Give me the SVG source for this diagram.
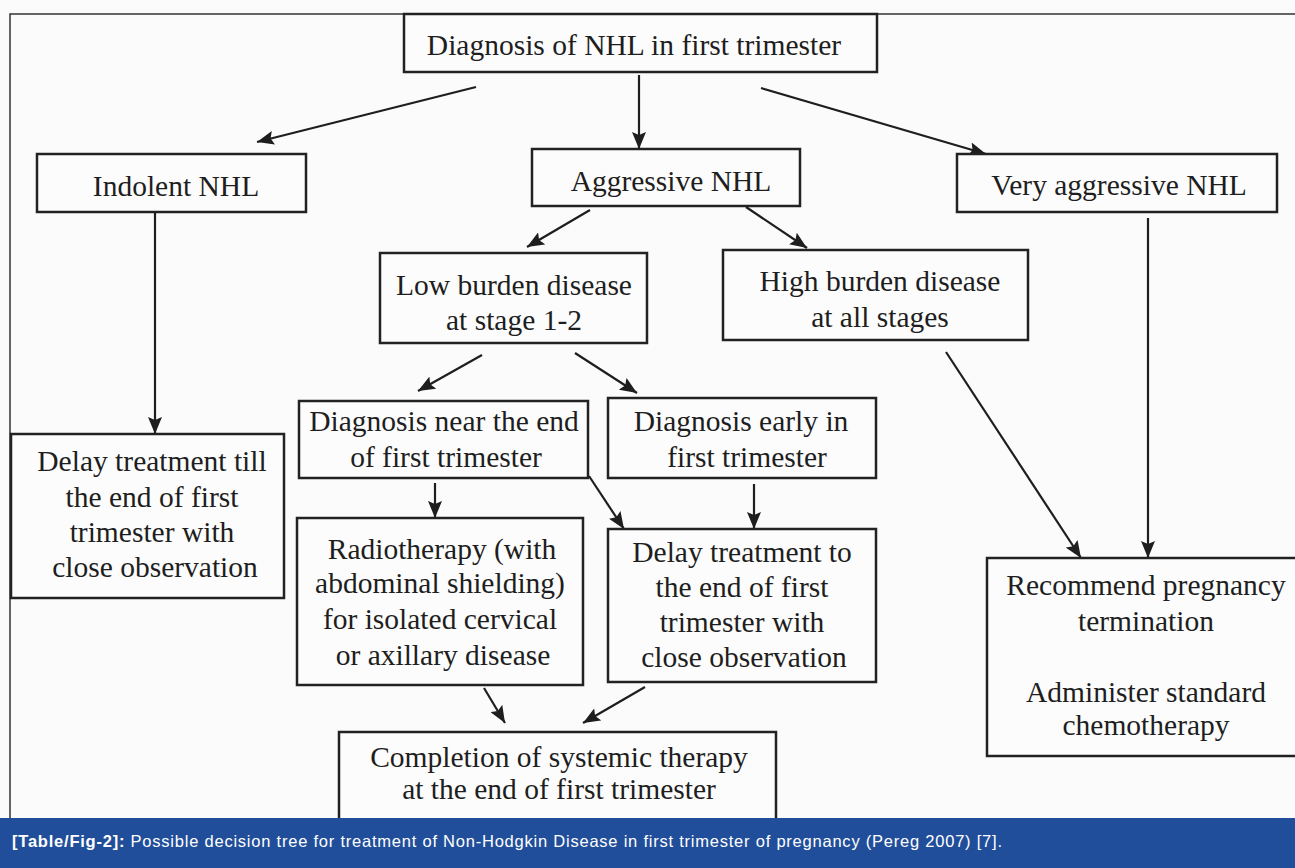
<svg xmlns="http://www.w3.org/2000/svg" width="1295" height="868" viewBox="0 0 1295 868">
<style>
.box{fill:#fcfcfc;stroke:#222;stroke-width:2.5}
.t{font-family:"Liberation Serif","Times New Roman",serif;font-size:29.5px;fill:#1e1e1e;text-anchor:middle}
.c{stroke:#1e1e1e;stroke-width:2.2;fill:none;marker-end:url(#ah)}
.cap{font-family:"Liberation Sans",Arial,sans-serif;font-size:16.5px;fill:#ffffff}
</style>
<defs>
<marker id="ah" markerUnits="userSpaceOnUse" markerWidth="18" markerHeight="14" refX="17" refY="7" orient="auto">
<path d="M0,0 L17,7 L0,14 L3,7 z" fill="#1e1e1e"/>
</marker>
</defs>
<rect x="0" y="0" width="1295" height="868" fill="#fbfbfb"/>
<rect x="10" y="14" width="1300" height="830" fill="none" stroke="#333" stroke-width="1.5"/>

<g id="connectors">
<line class="c" x1="476" y1="87" x2="257" y2="142"/>
<line class="c" x1="639" y1="75" x2="639" y2="149"/>
<line class="c" x1="761" y1="88" x2="986" y2="154"/>
<line class="c" x1="155" y1="212" x2="155" y2="434"/>
<line class="c" x1="590" y1="210" x2="527" y2="247"/>
<line class="c" x1="746" y1="207" x2="807" y2="248"/>
<line class="c" x1="1148" y1="218" x2="1148" y2="558"/>
<line class="c" x1="946" y1="352" x2="1081" y2="558"/>
<line class="c" x1="482" y1="355" x2="418" y2="391"/>
<line class="c" x1="575" y1="353" x2="637" y2="393"/>
<line class="c" x1="435" y1="483" x2="435" y2="518"/>
<line class="c" x1="589" y1="476" x2="624" y2="529"/>
<line class="c" x1="754" y1="484" x2="754" y2="529"/>
<line class="c" x1="484" y1="688" x2="505" y2="723"/>
<line class="c" x1="645" y1="687" x2="583" y2="723"/>
</g>

<g id="n-top"><rect class="box" x="404" y="14" width="473" height="58"/><text class="t" x="634" y="55">Diagnosis of NHL in first trimester</text></g>
<g id="n-indolent"><rect class="box" x="37" y="154" width="269" height="58"/><text class="t" x="176" y="196">Indolent NHL</text></g>
<g id="n-aggressive"><rect class="box" x="532" y="149" width="268" height="57"/><text class="t" x="671" y="191">Aggressive NHL</text></g>
<g id="n-very"><rect class="box" x="957" y="154" width="320" height="58"/><text class="t" x="1119" y="195">Very aggressive NHL</text></g>
<g id="n-low"><rect class="box" x="380" y="253" width="267" height="90"/><text class="t" x="514" y="295">Low burden disease</text><text class="t" x="514" y="330">at stage 1-2</text></g>
<g id="n-high"><rect class="box" x="723" y="250" width="305" height="90"/><text class="t" x="880" y="291">High burden disease</text><text class="t" x="880" y="327">at all stages</text></g>
<g id="n-near"><rect class="box" x="299" y="401" width="289" height="77"/><text class="t" x="444" y="431">Diagnosis near the end</text><text class="t" x="446" y="467">of first trimester</text></g>
<g id="n-early"><rect class="box" x="608" y="398" width="268" height="80"/><text class="t" x="741" y="431">Diagnosis early in</text><text class="t" x="747" y="467">first trimester</text></g>
<g id="n-delaytill"><rect class="box" x="11" y="434" width="273" height="164"/><text class="t" x="152" y="471">Delay treatment till</text><text class="t" x="152" y="507">the end of first</text><text class="t" x="152" y="542">trimester with</text><text class="t" x="155" y="577">close observation</text></g>
<g id="n-radio"><rect class="box" x="297" y="518" width="286" height="167"/><text class="t" x="442" y="559">Radiotherapy (with</text><text class="t" x="440" y="593">abdominal shielding)</text><text class="t" x="440" y="629">for isolated cervical</text><text class="t" x="443" y="665">or axillary disease</text></g>
<g id="n-delayto"><rect class="box" x="608" y="529" width="268" height="153"/><text class="t" x="742" y="562">Delay treatment to</text><text class="t" x="742" y="597">the end of first</text><text class="t" x="742" y="632">trimester with</text><text class="t" x="744" y="667">close observation</text></g>
<g id="n-completion"><rect class="box" x="339" y="732" width="437" height="110"/><text class="t" x="559" y="767">Completion of systemic therapy</text><text class="t" x="559" y="799">at the end of first trimester</text></g>
<g id="n-recommend"><rect class="box" x="987" y="558" width="320" height="198"/><text class="t" x="1146" y="595">Recommend pregnancy</text><text class="t" x="1146" y="631">termination</text><text class="t" x="1146" y="702">Administer standard</text><text class="t" x="1146" y="735">chemotherapy</text></g>

<g id="caption">
<rect x="0" y="818" width="1295" height="50" fill="#214e9a"/>
<text class="cap" x="12" y="847" textLength="990" lengthAdjust="spacing"><tspan font-weight="bold">[Table/Fig-2]:</tspan> Possible decision tree for treatment of Non-Hodgkin Disease in first trimester of pregnancy (Pereg 2007) [7].</text>
</g>
</svg>
